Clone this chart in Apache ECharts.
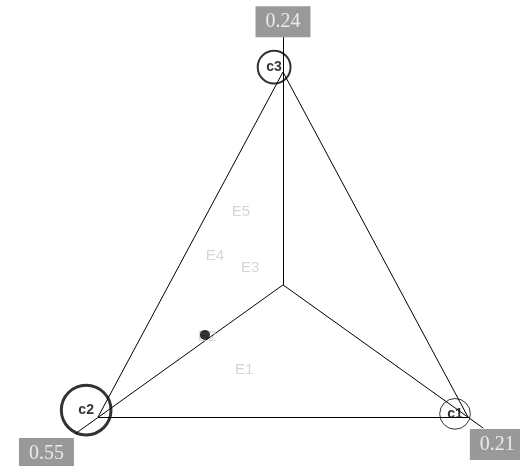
<!DOCTYPE html>
<html>
<head>
<meta charset="utf-8">
<script src="https://cdn.jsdelivr.net/npm/echarts@6/dist/echarts.min.js"></script>
<style>
  html, body { margin: 0; background: #fff; }
  #chart { width: 520px; height: 466px; }
</style>
</head>
<body>
<div id="chart"></div>
<script>
// 三角形用单位坐标：c2 左下 (0,0)，c1 右下 (1,0)，c3 顶部 (0.5,1)
const vertexNames = ['c1', 'c2', 'c3'];
const vertexValues = [0.21, 0.55, 0.24];
const vertexPos = [[1, 0], [0, 0], [0.5, 1]];
const circlePos = [[0.965, 0.009], [-0.032, 0.02], [0.476, 1.014]];
const centerPos = [0.5, 0.383];
const spokeEnds = [[1.041, -0.032], [-0.062, -0.049], [0.5, 1.101]];
const labelAnchors = [[1.005, -0.035], [-0.065, -0.061], [0.5, 1.101]];
const pointPos = [0.289, 0.238];
const regionNames = ['E1', 'E2', 'E3', 'E4', 'E5'];
const regionPos = [[0.395, 0.136], [0.295, 0.232], [0.411, 0.432], [0.316, 0.467], [0.386, 0.594]];

const circleBorders = [1, 3, 2];
const labelAlign = [['left', 'top'], ['right', 'top'], ['center', 'bottom']];

const chart = echarts.init(document.getElementById('chart'));

// 三角形的三条边 + 中心到各顶点的连线
const edges = vertexPos.map((p, i) => ({ coords: [p, vertexPos[(i + 1) % 3]] }));
const spokes = spokeEnds.map(p => ({ coords: [centerPos, p] }));

chart.setOption({
  animation: false,
  grid: { left: 98, top: 72, width: 370, height: 345 },
  xAxis: { type: 'value', min: 0, max: 1, show: false },
  yAxis: { type: 'value', min: 0, max: 1, show: false },
  series: [
    {
      type: 'lines',
      coordinateSystem: 'cartesian2d',
      clip: false,
      silent: true,
      lineStyle: { color: '#000', width: 1, opacity: 1 },
      data: edges.concat(spokes),
      z: 1
    },
    {
      // 顶点圆圈，面积按数值缩放
      type: 'scatter',
      clip: false,
      data: vertexNames.map((n, i) => ({
        name: n,
        value: circlePos[i],
        symbolSize: 67 * Math.sqrt(vertexValues[i]),
        itemStyle: { color: 'rgba(0,0,0,0)', borderColor: '#000', borderWidth: circleBorders[i] }
      })),
      label: {
        show: true,
        position: 'inside',
        formatter: '{b}',
        color: '#000',
        fontWeight: 'bold',
        fontSize: 14,
        fontFamily: 'Liberation Sans'
      },
      z: 2
    },
    {
      type: 'scatter',
      clip: false,
      symbolSize: 0,
      data: regionNames.map((n, i) => ({ name: n, value: regionPos[i] })),
      label: {
        show: true,
        position: 'inside',
        formatter: '{b}',
        color: '#cccccc',
        fontSize: 15,
        fontFamily: 'Liberation Sans'
      },
      z: 3
    },
    {
      type: 'scatter',
      clip: false,
      symbolSize: 10,
      itemStyle: { color: '#000' },
      data: [pointPos],
      z: 4
    },
    {
      // 各顶点的数值标签
      type: 'scatter',
      clip: false,
      symbolSize: 0,
      data: vertexValues.map((v, i) => ({
        name: v.toFixed(2),
        value: labelAnchors[i],
        label: { align: labelAlign[i][0], verticalAlign: labelAlign[i][1] }
      })),
      label: {
        show: true,
        position: 'inside',
        formatter: '{b}',
        color: '#fff',
        fontSize: 20,
        lineHeight: 21,
        fontFamily: 'Liberation Serif',
        backgroundColor: '#808080',
        padding: [5, 10]
      },
      z: 5
    }
  ]
});
</script>
</body>
</html>
